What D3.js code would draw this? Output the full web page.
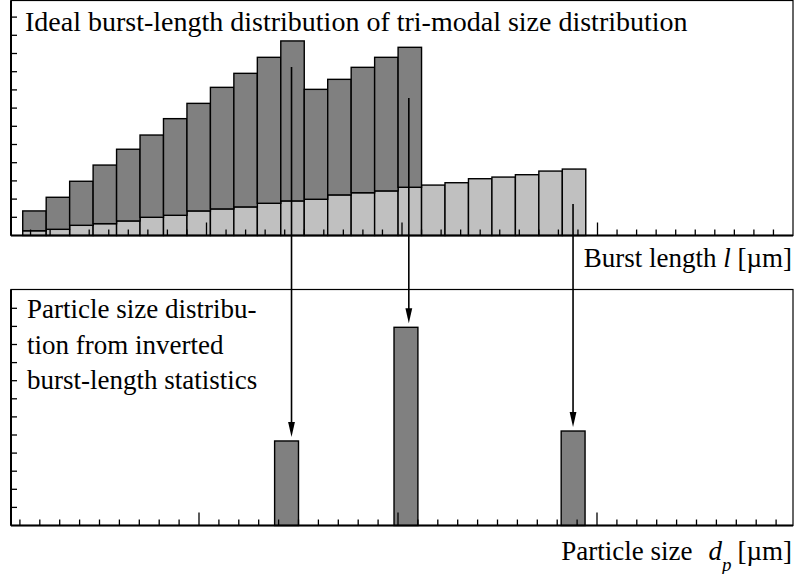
<!DOCTYPE html>
<html>
<head>
<meta charset="utf-8">
<script src="https://cdn.jsdelivr.net/npm/d3@7"></script>
<style>
  html, body { margin: 0; padding: 0; background: #fff; }
  svg { display: block; }
  text { font-family: "Liberation Serif", "Times New Roman", serif; fill: #000; }
</style>
</head>
<body>
<script>
// ---------------- data ----------------
// burst-length bins (bin centres, in axis units), bin width 1.2
const burstBins = [1.2,2.4,3.6,4.8,6.0,7.2,8.4,9.6,10.8,12.0,13.2,14.4,15.6,16.8,18.0,19.2,20.4,21.6,22.8,24.0,25.2,26.4,27.6,28.8];
const binWidth = 1.2;
// light (large-particle) component, present in all bins
const lightSeries = [0.26,0.34,0.56,0.65,0.80,1.00,1.11,1.35,1.46,1.57,1.77,1.90,1.99,2.23,2.35,2.45,2.65,2.77,2.90,3.12,3.21,3.34,3.54,3.65];
// dark (small + medium particle) component, stacked on top of light, first 17 bins
const darkSeries = [1.09,1.76,2.42,3.22,3.94,4.52,5.31,5.91,6.68,7.34,8.02,8.79,6.04,6.35,6.89,7.34,7.69];
// inverted particle-size distribution
const sizeBins = [14.4, 20.4, 28.8];
const sizeValues = [4.67, 10.95, 5.22];
// arrow annotations: start height in upper panel units
const arrowStart = [9.26, 7.55, 1.73];

const titleTop = "Ideal burst-length distribution of tri-modal size distribution";
const labelBottomLines = ["Particle size distribu-", "tion from inverted", "burst-length statistics"];

// ---------------- layout ----------------
const W = 797, H = 574;
const FS = 27;
const svg = d3.select("body").append("svg").attr("width", W).attr("height", H);

const left = 11, right = 793;
const top1 = 0.5, base1 = 235.5;
const top2 = 289.5, base2 = 525.5;

const x1 = d3.scaleLinear().domain([0, 40]).range([left, right]);
const y1 = d3.scaleLinear().domain([0, 13]).range([base1, base1 - 13 * 18.2]);
const x2 = d3.scaleLinear().domain([0, 40]).range([0, 796]);
const y2 = d3.scaleLinear().domain([0, 13]).range([base2, base2 - 13 * 18.1]);

const DARK = "#808080", LIGHT = "#c0c0c0";

// ---------------- top panel ----------------
const g1 = svg.append("g");
g1.append("rect").attr("x", left).attr("y", top1).attr("width", right - left).attr("height", base1 - top1)
  .attr("fill", "none").attr("stroke", "#000").attr("stroke-width", 1.2);

g1.selectAll("rect.light").data(burstBins).join("rect").attr("class", "light")
  .attr("x", d => x1(d - binWidth / 2))
  .attr("width", d => x1(d + binWidth / 2) - x1(d - binWidth / 2))
  .attr("y", (d, i) => y1(lightSeries[i]))
  .attr("height", (d, i) => y1(0) - y1(lightSeries[i]))
  .attr("fill", LIGHT).attr("stroke", "#000").attr("stroke-width", 1.4);

g1.selectAll("rect.dark").data(darkSeries).join("rect").attr("class", "dark")
  .attr("x", (d, i) => x1(burstBins[i] - binWidth / 2))
  .attr("width", (d, i) => x1(burstBins[i] + binWidth / 2) - x1(burstBins[i] - binWidth / 2))
  .attr("y", (d, i) => y1(lightSeries[i] + d))
  .attr("height", (d, i) => y1(lightSeries[i]) - y1(lightSeries[i] + d))
  .attr("fill", DARK).attr("stroke", "#000").attr("stroke-width", 1.4);

const ticks1 = d3.range(1, 40);
g1.selectAll("line.xt").data(ticks1).join("line")
  .attr("x1", d => x1(d)).attr("x2", d => x1(d))
  .attr("y1", base1).attr("y2", d => base1 - (d % 10 === 0 ? 13 : 6))
  .attr("stroke", "#000").attr("stroke-width", 1.3);
g1.selectAll("line.yt").data(d3.range(1, 13)).join("line")
  .attr("x1", left).attr("x2", left + 6)
  .attr("y1", d => y1(d)).attr("y2", d => y1(d))
  .attr("stroke", "#000").attr("stroke-width", 1.3);
g1.append("line").attr("x1", left).attr("x2", right).attr("y1", base1).attr("y2", base1).attr("stroke", "#000").attr("stroke-width", 2);
g1.append("line").attr("x1", left).attr("x2", left).attr("y1", top1).attr("y2", base1).attr("stroke", "#000").attr("stroke-width", 2);

g1.append("text").attr("x", 25).attr("y", 30.5).attr("font-size", 28).text(titleTop);

const lab1 = g1.append("text").attr("x", 792).attr("y", 266.7).attr("text-anchor", "end").attr("font-size", FS);
lab1.append("tspan").text("Burst length ");
lab1.append("tspan").attr("font-style", "italic").text("l");
lab1.append("tspan").text(" [µm]");

// ---------------- bottom panel ----------------
const g2 = svg.append("g");
g2.append("rect").attr("x", left).attr("y", top2).attr("width", right - left).attr("height", base2 - top2)
  .attr("fill", "none").attr("stroke", "#000").attr("stroke-width", 1.2);

g2.selectAll("rect.sz").data(sizeBins).join("rect")
  .attr("x", d => x2(d - binWidth / 2))
  .attr("width", d => x2(d + binWidth / 2) - x2(d - binWidth / 2))
  .attr("y", (d, i) => y2(sizeValues[i]))
  .attr("height", (d, i) => y2(0) - y2(sizeValues[i]))
  .attr("fill", DARK).attr("stroke", "#000").attr("stroke-width", 1.4);

const ticks2 = d3.range(1, 40).filter(d => x2(d) > left + 2 && x2(d) < right - 2);
g2.selectAll("line.xt").data(ticks2).join("line")
  .attr("x1", d => x2(d)).attr("x2", d => x2(d))
  .attr("y1", base2).attr("y2", d => base2 - (d % 10 === 0 ? 13 : 6))
  .attr("stroke", "#000").attr("stroke-width", 1.3);
g2.selectAll("line.yt").data(d3.range(1, 13)).join("line")
  .attr("x1", left).attr("x2", left + 6)
  .attr("y1", d => y2(d)).attr("y2", d => y2(d))
  .attr("stroke", "#000").attr("stroke-width", 1.3);
g2.append("line").attr("x1", left).attr("x2", right).attr("y1", base2).attr("y2", base2).attr("stroke", "#000").attr("stroke-width", 2);
g2.append("line").attr("x1", left).attr("x2", left).attr("y1", top2).attr("y2", base2).attr("stroke", "#000").attr("stroke-width", 2);

g2.selectAll("text.lb").data(labelBottomLines).join("text")
  .attr("x", 27).attr("y", (d, i) => 318.3 + i * 35.5).attr("font-size", FS).text(d => d);

const lab2 = g2.append("text").attr("x", 792).attr("y", 560).attr("text-anchor", "end").attr("font-size", FS);
lab2.append("tspan").text("Particle size");
lab2.append("tspan").attr("dx", 16).attr("font-style", "italic").text("d");
lab2.append("tspan").attr("font-style", "italic").attr("font-size", 19).attr("dy", 11).text("p");
lab2.append("tspan").attr("dy", -11).attr("dx", 6).text("[µm]");

// ---------------- arrows ----------------
const ga = svg.append("g");
const arrowSrc = [11, 16, 23];
arrowSrc.forEach((bi, k) => {
  const ax = x1(burstBins[bi]) - 1;
  const yStart = y1(arrowStart[k]);
  const yTip = y2(sizeValues[k]) - 4;
  const headLen = 15, headW = 3.4;
  ga.append("line").attr("x1", ax).attr("x2", ax).attr("y1", yStart).attr("y2", yTip - headLen + 2)
    .attr("stroke", "#000").attr("stroke-width", 1.6);
  ga.append("path")
    .attr("d", `M${ax - headW},${yTip - headLen} L${ax + headW},${yTip - headLen} L${ax},${yTip} Z`)
    .attr("fill", "#000");
});
</script>
</body>
</html>
